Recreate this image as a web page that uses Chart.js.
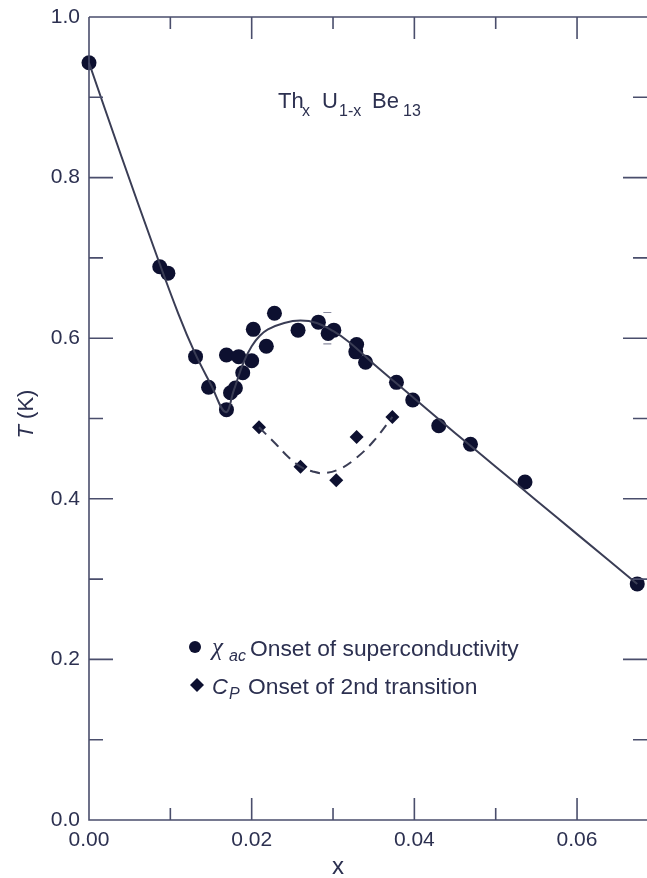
<!DOCTYPE html>
<html>
<head>
<meta charset="utf-8">
<script src="https://cdn.jsdelivr.net/npm/chart.js@4.4.0/dist/chart.umd.min.js"></script>
<style>
  body { margin: 0; background: #fff; }
  canvas { display: block; }
</style>
</head>
<body>
<canvas id="phaseChart" width="647" height="878"></canvas>
<script>
// chi_ac onset of superconductivity (x, T in K)
const chiX = [0.0000, 0.0087, 0.0097, 0.0131, 0.0147, 0.0169, 0.0169, 0.0174, 0.0180, 0.0184,
              0.0189, 0.0200, 0.0202, 0.0218, 0.0228, 0.0257, 0.0282, 0.0294, 0.0301, 0.0328,
              0.0329, 0.0340, 0.0378, 0.0398, 0.0430, 0.0469, 0.0536, 0.0674];
const chiT = [0.943, 0.689, 0.681, 0.577, 0.539, 0.511, 0.579, 0.532, 0.538, 0.577,
              0.557, 0.572, 0.611, 0.590, 0.631, 0.610, 0.620, 0.606, 0.610, 0.583,
              0.592, 0.570, 0.545, 0.523, 0.491, 0.468, 0.421, 0.294];

// C_P onset of 2nd transition
const cpX = [0.0209, 0.0260, 0.0304, 0.0329, 0.0373];
const cpT = [0.489, 0.440, 0.423, 0.477, 0.502];

// solid guide line through the chi_ac points (traced)
const fitX = [0.0000, 0.0040, 0.0080, 0.0110, 0.0130, 0.0150, 0.0168, 0.0178, 0.0190, 0.0200,
              0.0210, 0.0220, 0.0240, 0.0260, 0.0280, 0.0300, 0.0320, 0.0350, 0.0400, 0.0450,
              0.0500, 0.0550, 0.0600, 0.0674];
const fitT = [0.943, 0.826, 0.712, 0.630, 0.582, 0.542, 0.508, 0.535, 0.570, 0.590,
              0.603, 0.611, 0.619, 0.622, 0.619, 0.609, 0.595, 0.568, 0.525, 0.482,
              0.440, 0.398, 0.356, 0.294];

// dashed guide line through the C_P points (traced)
const dashX = [0.0209, 0.0230, 0.0245, 0.0260, 0.0275, 0.0290, 0.0310, 0.0330, 0.0350, 0.0373];
const dashT = [0.489, 0.468, 0.452, 0.440, 0.434, 0.432, 0.438, 0.452, 0.472, 0.502];

// small error bar near the maximum
const errX = [0.0293];
const errLo = [0.593];
const errHi = [0.632];

const xMajor = [0, 0.02, 0.04, 0.06];
const xMinor = [0.01, 0.03, 0.05];
const yMajor = [0, 0.2, 0.4, 0.6, 0.8, 1.0];
const yMinor = [0.1, 0.3, 0.5, 0.7, 0.9];

const ink = '#2c3050';
const markInk = '#0d1030';
const frameInk = '#4a4e6c';
const sans = '"Liberation Sans", Arial, sans-serif';

function pts(xs, ys) {
    return xs.map((x, i) => ({x: x, y: ys[i]}));
}

// frame with inward ticks on all four sides
const frameTicks = {
    id: 'frameTicks',
    afterDatasetsDraw(chart) {
        const {ctx, chartArea: a, scales: {x, y}} = chart;
        ctx.save();
        ctx.strokeStyle = frameInk;
        ctx.lineWidth = 1.6;
        ctx.beginPath();
        ctx.moveTo(a.left, a.top); ctx.lineTo(a.right, a.top);
        ctx.moveTo(a.left, a.top); ctx.lineTo(a.left, a.bottom);
        ctx.lineTo(a.right, a.bottom);
        const tick = (vals, len, isX) => {
            vals.forEach(v => {
                if (isX) {
                    const px = x.getPixelForValue(v);
                    ctx.moveTo(px, a.bottom); ctx.lineTo(px, a.bottom - len);
                    ctx.moveTo(px, a.top); ctx.lineTo(px, a.top + len);
                } else {
                    const py = y.getPixelForValue(v);
                    ctx.moveTo(a.left, py); ctx.lineTo(a.left + len, py);
                    ctx.moveTo(a.right, py); ctx.lineTo(a.right - len, py);
                }
            });
        };
        tick(xMajor, 22, true);
        tick(xMinor, 12, true);
        tick(yMajor, 24, false);
        tick(yMinor, 14, false);
        ctx.stroke();

        // error bar caps
        ctx.strokeStyle = '#8a8ca0';
        ctx.lineWidth = 1.2;
        ctx.beginPath();
        errX.forEach((v, i) => {
            const px = x.getPixelForValue(v);
            [errLo[i], errHi[i]].forEach(t => {
                const py = y.getPixelForValue(t);
                ctx.moveTo(px - 4, py); ctx.lineTo(px + 4, py);
            });
        });
        ctx.stroke();
        ctx.restore();
    }
};

// title, axis labels and legend (need sub/superscripts)
const annotations = {
    id: 'annotations',
    afterDraw(chart) {
        const ctx = chart.ctx;
        ctx.save();
        ctx.fillStyle = ink;
        ctx.textBaseline = 'alphabetic';
        ctx.textAlign = 'left';

        const big = '22px ' + sans;
        const small = '16px ' + sans;
        // compound name
        ctx.font = big; ctx.fillText('Th', 278, 108);
        ctx.font = small; ctx.fillText('x', 302, 116);
        ctx.font = big; ctx.fillText('U', 322, 108);
        ctx.font = small; ctx.fillText('1-x', 339, 116);
        ctx.font = big; ctx.fillText('Be', 372, 108);
        ctx.font = small; ctx.fillText('13', 403, 116);

        // y axis title
        ctx.save();
        ctx.translate(33, 414);
        ctx.rotate(-Math.PI / 2);
        ctx.textAlign = 'left';
        ctx.font = 'italic 22px ' + sans;
        const tW = ctx.measureText('T').width;
        ctx.font = '22px ' + sans;
        const restW = ctx.measureText(' (K)').width;
        let sx = -(tW + restW) / 2;
        ctx.font = 'italic 22px ' + sans;
        ctx.fillText('T', sx, 0);
        ctx.font = '22px ' + sans;
        ctx.fillText(' (K)', sx + tW, 0);
        ctx.restore();

        // x axis title
        ctx.font = '24px ' + sans;
        ctx.textAlign = 'center';
        ctx.fillText('x', 338, 874);
        ctx.textAlign = 'left';

        // legend markers
        ctx.fillStyle = markInk;
        ctx.beginPath();
        ctx.arc(195, 647, 6, 0, Math.PI * 2);
        ctx.fill();
        ctx.beginPath();
        ctx.moveTo(197, 678); ctx.lineTo(204, 685); ctx.lineTo(197, 692); ctx.lineTo(190, 685);
        ctx.closePath();
        ctx.fill();

        // legend text
        ctx.fillStyle = ink;
        ctx.font = 'italic 25px "Liberation Serif", serif';
        ctx.fillText('\u03C7', 212, 655);
        ctx.font = 'italic 16px ' + sans;
        ctx.fillText('ac', 229, 661);
        ctx.font = '22.8px ' + sans;
        ctx.fillText('Onset of superconductivity', 250, 656);

        ctx.font = 'italic 22px ' + sans;
        ctx.fillText('C', 212, 694);
        ctx.font = 'italic 16px ' + sans;
        ctx.fillText('P', 229, 699);
        ctx.font = '22.8px ' + sans;
        ctx.fillText('Onset of 2nd transition', 248, 694);
        ctx.restore();
    }
};

const ctx = document.getElementById('phaseChart').getContext('2d');
const chart = new Chart(ctx, {
    type: 'scatter',
    data: {
        datasets: [
            {
                label: 'fit',
                data: pts(fitX, fitT),
                showLine: true,
                borderColor: '#3a3d55',
                borderWidth: 2,
                pointRadius: 0,
                tension: 0.4,
                clip: false
            },
            {
                label: 'dash',
                data: pts(dashX, dashT),
                showLine: true,
                borderColor: '#3a3d55',
                borderWidth: 2,
                borderDash: [10, 7],
                pointRadius: 0,
                tension: 0.4,
                clip: false
            },
            {
                label: 'chi_ac',
                data: pts(chiX, chiT),
                pointStyle: 'circle',
                pointRadius: 7.5,
                backgroundColor: markInk,
                borderWidth: 0,
                clip: false
            },
            {
                label: 'C_P',
                data: pts(cpX, cpT),
                pointStyle: 'rectRot',
                pointRadius: 7,
                backgroundColor: markInk,
                borderWidth: 0,
                clip: false
            }
        ]
    },
    options: {
        responsive: false,
        animation: false,
        layout: { autoPadding: false, padding: { top: 17, right: 0, left: 0, bottom: 0 } },
        plugins: {
            legend: { display: false },
            tooltip: { enabled: false }
        },
        events: [],
        scales: {
            x: {
                type: 'linear',
                min: 0,
                max: 0.0686,
                afterFit(scale) {
                    scale.height = 58;
                    scale.paddingLeft = 0;
                    scale.paddingRight = 0;
                },
                afterBuildTicks(scale) { scale.ticks = xMajor.map(v => ({value: v})); },
                grid: { display: false, drawTicks: false },
                border: { display: false },
                ticks: {
                    padding: 8,
                    color: ink,
                    font: { family: sans, size: 21 },
                    callback: v => v.toFixed(2)
                }
            },
            y: {
                type: 'linear',
                min: 0,
                max: 1.0,
                afterFit(scale) {
                    scale.width = 89;
                    scale.paddingTop = 0;
                    scale.paddingBottom = 0;
                },
                afterBuildTicks(scale) { scale.ticks = yMajor.map(v => ({value: v})); },
                grid: { display: false, drawTicks: false },
                border: { display: false },
                ticks: {
                    padding: 9,
                    color: ink,
                    font: { family: sans, size: 21 },
                    callback: v => v.toFixed(1)
                }
            }
        }
    },
    plugins: [frameTicks, annotations]
});
</script>
</body>
</html>
